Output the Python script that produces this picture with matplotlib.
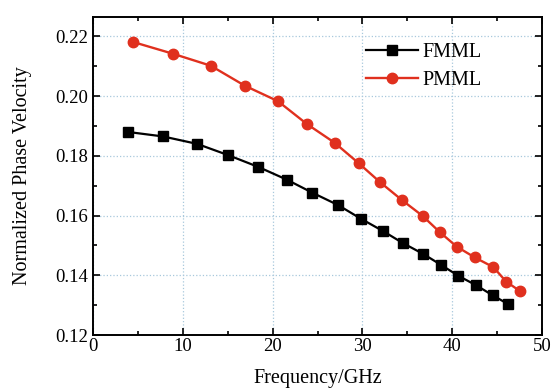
import matplotlib
matplotlib.use("Agg")
import matplotlib.pyplot as plt
from matplotlib.ticker import MultipleLocator

freq_f = [3.9, 7.8, 11.6, 15.0, 18.4, 21.6, 24.4, 27.3, 29.8, 32.3, 34.5, 36.8, 38.8, 40.7, 42.7, 44.5, 46.2]
fmml = [0.1880, 0.1865, 0.1840, 0.1803, 0.1763, 0.1720, 0.1677, 0.1635, 0.1590, 0.1548, 0.1508, 0.1471, 0.1434, 0.1398, 0.1366, 0.1333, 0.1304]
freq_p = [4.5, 8.9, 13.1, 16.9, 20.6, 23.8, 26.9, 29.6, 32.0, 34.4, 36.7, 38.6, 40.5, 42.5, 44.6, 46.0, 47.6]
pmml = [0.2181, 0.2142, 0.2102, 0.2035, 0.1983, 0.1907, 0.1844, 0.1775, 0.1711, 0.1652, 0.1599, 0.1545, 0.1496, 0.1460, 0.1427, 0.1379, 0.1346]

plt.rcParams['font.family'] = ['Liberation Serif', 'DejaVu Serif']

fig = plt.figure(figsize=(5.58, 3.92), dpi=100)
ax = fig.add_axes([0.1667, 0.1454, 0.8046, 0.8112])

ax.plot(freq_f, fmml, color='black', marker='s', markersize=6.5, linewidth=1.6, label='FMML')
ax.plot(freq_p, pmml, color='#e0301e', marker='o', markersize=7.5, linewidth=1.7, label='PMML')

ax.set_xlim(0, 50)
ax.set_ylim(0.12, 0.2265)
ax.xaxis.set_major_locator(MultipleLocator(10))
ax.xaxis.set_minor_locator(MultipleLocator(5))
ax.yaxis.set_major_locator(MultipleLocator(0.02))
ax.yaxis.set_minor_locator(MultipleLocator(0.01))
ax.yaxis.set_major_formatter(matplotlib.ticker.FormatStrFormatter('%.2f'))
ax.tick_params(which='both', direction='in', top=True, right=True, labelsize=13.5)
ax.tick_params(which='major', length=5, width=1.2)
ax.tick_params(which='minor', length=3, width=1.2)
ax.tick_params(axis='x', pad=2)
ax.grid(True, which='major', color='#a8c8dc', linestyle=':', linewidth=0.9)
for s in ax.spines.values():
    s.set_linewidth(1.4)

ax.set_xlabel('Frequency/GHz', fontsize=14.5, labelpad=10)
ax.set_ylabel('Normalized Phase Velocity', fontsize=14.5, labelpad=17)

ax.legend(loc='upper right', bbox_to_anchor=(0.905, 0.975), frameon=False, fontsize=14.5,
          handlelength=2.6, labelspacing=0.45, handletextpad=0.2)

fig.savefig('out.png', dpi=100)
